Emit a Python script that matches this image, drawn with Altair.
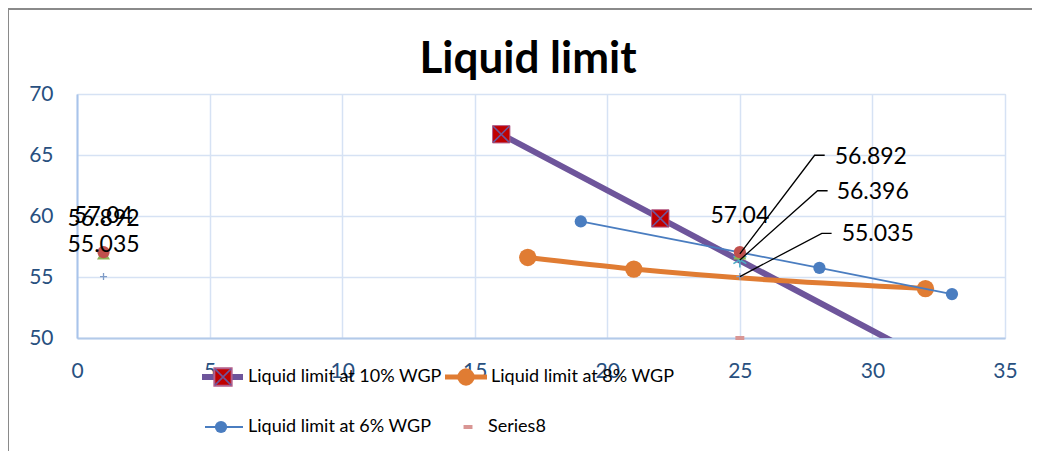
import altair as alt
import pandas as pd

# ---- data ----
x10 = [16, 22, 32]
y10 = [66.7, 59.8, 48.3]
x8 = [17, 21, 32]
y8 = [56.6, 55.65, 54.05]
x6 = [19, 28, 33]
y6 = [59.55, 55.75, 53.6]

x_red = [1, 25]
y_red = [57.04, 57.04]
x_tri = [1, 25]
y_tri = [56.892, 56.892]
x_star = [25]
y_star = [56.396]
x_plus = [1, 25]
y_plus = [55.035, 55.035]
x_s8 = [25]
y_s8 = [50]

# data labels (text, anchor x, anchor y)
lab_text_c = ["57.04", "56.892", "55.035", "57.04"]
lab_x_c = [1, 1, 1, 25]
lab_y_c = [60.04, 59.72, 57.61, 59.96]
lab_text_l = ["56.892", "56.396", "55.035"]
lab_x_l = [28.58, 28.65, 28.84]
lab_y_l = [64.82, 61.98, 58.5]
# leader lines: from point -> elbow -> end
lead_grp = ["a", "a", "a", "b", "b", "b", "c", "c", "c"]
lead_ord = [0, 1, 2, 0, 1, 2, 0, 1, 2]
lead_x = [25, 27.82, 28.2, 25, 27.93, 28.31, 25, 28.09, 28.46]
lead_y = [56.892, 64.98, 64.98, 56.396, 62.07, 62.07, 55.035, 58.58, 58.58]

x_ticks = [0, 5, 10, 15, 20, 25, 30, 35]
y_ticks = [50, 55, 60, 65, 70]

legend_names = ["Liquid limit at 10% WGP", "Liquid limit at 8% WGP",
                "Liquid limit at 6% WGP", "Series8"]

FONT = "Lato"
PURPLE = "#6E559B"
RED = "#C00000"
ORANGE = "#E07C33"
BLUE = "#4A7DC0"
GRID = "#D6E2F4"
AXC = "#28507F"

W, H = 928, 244

xs = alt.Scale(domain=[0, 35], nice=False, zero=False)
ys = alt.Scale(domain=[50, 70], nice=False, zero=False)
xaxis = alt.Axis(values=x_ticks, grid=True, gridColor=GRID, gridWidth=1.5,
                 domainColor="#B3CAE9", domainWidth=2, ticks=False,
                 labelFontSize=21, labelColor=AXC, labelFont=FONT,
                 labelPadding=22, title=None, labelFlush=False)
yaxis = alt.Axis(values=y_ticks, grid=True, gridColor=GRID, gridWidth=1.5,
                 domainColor="#A9C4EA", domainWidth=2, ticks=False,
                 labelFontSize=21, labelColor=AXC, labelFont=FONT,
                 labelPadding=24, title=None, labelFlush=False)

X = alt.X("x:Q", scale=xs, axis=xaxis)
Y = alt.Y("y:Q", scale=ys, axis=yaxis)


def df(xv, yv):
    return pd.DataFrame({"x": xv, "y": yv})


one = pd.DataFrame({"a": [0]})

layers = []
# 10% WGP
layers.append(alt.Chart(df(x10, y10)).mark_line(color=PURPLE, strokeWidth=6, clip=True).encode(x=X, y=Y))
layers.append(alt.Chart(df(x10, y10)).mark_point(shape="square", filled=True, fill=RED, stroke="#B45F8A",
                                                 strokeWidth=1, size=300, opacity=1, clip=True).encode(x=X, y=Y))
layers.append(alt.Chart(df(x10, y10)).mark_point(shape="M-1,-1L1,1M1,-1L-1,1", filled=False, stroke=PURPLE,
                                                 strokeWidth=1.6, size=260, opacity=1, clip=True).encode(x=X, y=Y))
# 8% WGP
layers.append(alt.Chart(df(x8, y8)).mark_line(color=ORANGE, strokeWidth=5, interpolate="monotone").encode(x=X, y=Y))
layers.append(alt.Chart(df(x8, y8)).mark_point(shape="circle", filled=True, color=ORANGE, size=300,
                                               opacity=1).encode(x=X, y=Y))
# 6% WGP
layers.append(alt.Chart(df(x6, y6)).mark_line(color=BLUE, strokeWidth=1.8).encode(x=X, y=Y))
layers.append(alt.Chart(df(x6, y6)).mark_point(shape="circle", filled=True, color=BLUE, size=150,
                                               opacity=1).encode(x=X, y=Y))
# other series
layers.append(alt.Chart(df(x_star, y_star)).mark_point(
    shape="M0,-1L0,1M-0.87,-0.5L0.87,0.5M-0.87,0.5L0.87,-0.5", filled=False, stroke="#4BACC6",
    strokeWidth=1.6, size=220, opacity=1).encode(x=X, y=Y))
layers.append(alt.Chart(df(x_tri, y_tri)).mark_point(shape="triangle-up", filled=True, color="#8DB255",
                                                     size=170, opacity=1).encode(x=X, y=Y))
layers.append(alt.Chart(df(x_red, y_red)).mark_point(shape="circle", filled=True, color="#C0504D",
                                                     size=150, opacity=1).encode(x=X, y=Y))
layers.append(alt.Chart(df(x_plus, y_plus)).mark_point(shape="M-1,0L1,0M0,-1L0,1", filled=False,
                                                       stroke="#7F9CC7", strokeWidth=1.3, size=50,
                                                       opacity=1).encode(x=X, y=Y))
layers.append(alt.Chart(df(x_s8, y_s8)).mark_point(shape="M-1,-0.45L1,-0.45L1,0.45L-1,0.45Z", filled=True,
                                                   color="#D99694", size=80, opacity=1).encode(x=X, y=Y))

# leader lines and data labels
lead = pd.DataFrame({"x": lead_x, "y": lead_y, "g": lead_grp, "o": lead_ord})
layers.append(alt.Chart(lead).mark_line(color="black", strokeWidth=1.3).encode(
    x=X, y=Y, detail="g:N", order="o:Q"))
labc = pd.DataFrame({"x": lab_x_c, "y": lab_y_c, "t": lab_text_c})
layers.append(alt.Chart(labc).mark_text(font=FONT, fontSize=23, color="black", align="center",
                                        baseline="middle").encode(x=X, y=Y, text="t:N"))
labl = pd.DataFrame({"x": lab_x_l, "y": lab_y_l, "t": lab_text_l})
layers.append(alt.Chart(labl).mark_text(font=FONT, fontSize=23, color="black", align="left",
                                        baseline="middle").encode(x=X, y=Y, text="t:N"))

# title
layers.append(alt.Chart(one).mark_text(text="Liquid limit", font=FONT, fontSize=44, fontWeight="bold",
                                       color="black", align="center", baseline="alphabetic").encode(
    x=alt.value(451), y=alt.value(-21)))

# chart frame (grey border)
layers.append(alt.Chart(one).mark_rule(color="#8A8A8A", strokeWidth=2).encode(
    x=alt.value(-69), y=alt.value(-85), y2=alt.value(400)))
layers.append(alt.Chart(one).mark_rule(color="#8A8A8A", strokeWidth=2).encode(
    x=alt.value(-69), x2=alt.value(1000), y=alt.value(-85)))

# manual legend
r1, r2 = 283, 333
layers.append(alt.Chart(one).mark_rule(color=PURPLE, strokeWidth=6).encode(
    x=alt.value(125), x2=alt.value(166), y=alt.value(r1)))
layers.append(alt.Chart(one).mark_point(shape="square", filled=True, fill=RED, stroke="#B45F8A", size=300,
                                        opacity=1).encode(x=alt.value(146), y=alt.value(r1)))
layers.append(alt.Chart(one).mark_point(shape="M-1,-1L1,1M1,-1L-1,1", filled=False, stroke=PURPLE,
                                        strokeWidth=1.6, size=260, opacity=1).encode(x=alt.value(146), y=alt.value(r1)))
layers.append(alt.Chart(one).mark_rule(color=ORANGE, strokeWidth=5).encode(
    x=alt.value(368), x2=alt.value(410), y=alt.value(r1)))
layers.append(alt.Chart(one).mark_point(shape="circle", filled=True, color=ORANGE, size=300,
                                        opacity=1).encode(x=alt.value(389), y=alt.value(r1)))
layers.append(alt.Chart(one).mark_rule(color=BLUE, strokeWidth=1.8).encode(
    x=alt.value(128), x2=alt.value(166), y=alt.value(r2)))
layers.append(alt.Chart(one).mark_point(shape="circle", filled=True, color=BLUE, size=150,
                                        opacity=1).encode(x=alt.value(144), y=alt.value(r2)))
layers.append(alt.Chart(one).mark_point(shape="M-1,-0.45L1,-0.45L1,0.45L-1,0.45Z", filled=True,
                                        color="#D99694", size=80, opacity=1).encode(x=alt.value(391), y=alt.value(r2)))
leg_pos = [(171, r1), (414, r1), (171, r2), (411, r2)]
for name, (lx, ly) in zip(legend_names, leg_pos):
    layers.append(alt.Chart(one).mark_text(text=name, font=FONT, fontSize=18, color="black", align="left",
                                           baseline="middle").encode(x=alt.value(lx), y=alt.value(ly)))

chart = alt.layer(*layers).properties(
    width=W, height=H,
    autosize=alt.AutoSizeParams(type="none"),
    padding={"left": 69, "top": 86, "right": 27, "bottom": 113},
).configure_view(stroke=GRID, strokeWidth=1.5).configure(background="white")

chart.save("out.html", embed_options={"renderer": "svg", "actions": False})
